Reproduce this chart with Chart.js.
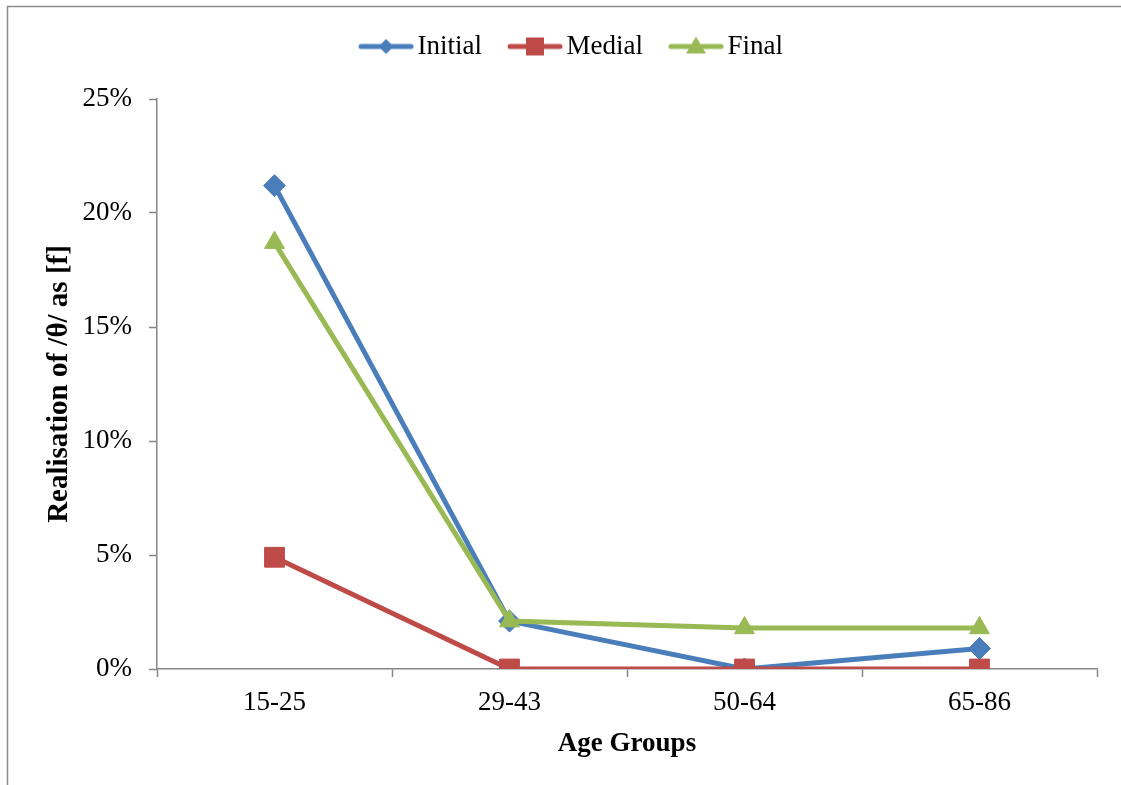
<!DOCTYPE html>
<html>
<head>
<meta charset="utf-8">
<script src="https://cdn.jsdelivr.net/npm/chart.js@4/dist/chart.umd.min.js"></script>
<style>
  html, body { margin: 0; padding: 0; background: #ffffff; }
  #wrap { position: relative; width: 1121px; height: 785px; }
</style>
</head>
<body>
<div id="wrap"><canvas id="chart" width="1121" height="785"></canvas></div>
<script>
// Age groups on the x axis
const categories = ['15-25', '29-43', '50-64', '65-86'];

// Share of /θ/ realised as [f], in percent, by word position
const initialValues = [21.2, 2.1, 0, 0.9];
const medialValues  = [4.9, 0, 0, 0];
const finalValues   = [18.7, 2.1, 1.8, 1.8];

// Y axis tick values (percent)
const yTicks = [0, 5, 10, 15, 20, 25];

const seriesNames = ['Initial', 'Medial', 'Final'];
const colors = { Initial: '#4A7EBB', Medial: '#BE4B48', Final: '#98B954' };
const axisGray = '#868686';
const serif = '"Liberation Serif", "Times New Roman", serif';

// Small swatch (line with its marker) used as the legend symbol
function legendSwatch(color, marker) {
  const c = document.createElement('canvas');
  c.width = 58; c.height = 24;
  const g = c.getContext('2d');
  const cy = 12, cx = 29;
  g.strokeStyle = color;
  g.lineWidth = 5;
  g.lineCap = 'round';
  g.beginPath(); g.moveTo(4, cy); g.lineTo(54, cy); g.stroke();
  g.fillStyle = color;
  g.beginPath();
  if (marker === 'diamond') {
    g.moveTo(cx, cy - 7.5); g.lineTo(cx + 7.5, cy); g.lineTo(cx, cy + 7.5); g.lineTo(cx - 7.5, cy);
  } else if (marker === 'square') {
    g.rect(cx - 9, cy - 9, 18, 18);
  } else {
    g.moveTo(cx, cy - 10); g.lineTo(cx + 10, cy + 7); g.lineTo(cx - 10, cy + 7);
  }
  g.closePath(); g.fill();
  return c;
}

const swatches = {
  Initial: legendSwatch(colors.Initial, 'diamond'),
  Medial: legendSwatch(colors.Medial, 'square'),
  Final: legendSwatch(colors.Final, 'triangle')
};

// Outer frame of the chart box
const framePlugin = {
  id: 'frame',
  afterDraw(chart) {
    const ctx = chart.ctx;
    ctx.save();
    ctx.strokeStyle = '#8c8c8c';
    ctx.lineWidth = 1.5;
    ctx.beginPath();
    ctx.moveTo(7.5, 785);
    ctx.lineTo(7.5, 6.5);
    ctx.lineTo(1121, 6.5);
    ctx.stroke();
    ctx.restore();
  }
};

// Place the legend row higher up and slightly right of centre
const legendShift = {
  id: 'legendShift',
  afterLayout(chart) {
    const lg = chart.legend;
    if (lg) {
      lg.left += 27; lg.right += 27;
      lg.top -= 29; lg.bottom -= 29;
    }
  }
};

function series(label, data, pointStyle, radius, order) {
  return {
    label,
    data,
    borderColor: colors[label],
    backgroundColor: colors[label],
    borderWidth: 5,
    tension: 0,
    pointStyle,
    pointRadius: radius,
    pointHoverRadius: radius,
    pointBorderWidth: 1,
    pointBackgroundColor: colors[label],
    pointBorderColor: colors[label],
    order
  };
}

new Chart(document.getElementById('chart'), {
  type: 'line',
  data: {
    labels: categories,
    datasets: [
      series('Initial', initialValues, 'rectRot', 11, 3),
      series('Medial', medialValues, 'rect', 14, 2),
      series('Final', finalValues, 'triangle', 11.5, 1)
    ]
  },
  options: {
    responsive: false,
    animation: false,
    devicePixelRatio: 1,
    layout: { padding: { top: 0, right: 24, bottom: 0, left: 0 } },
    plugins: {
      tooltip: { enabled: false },
      legend: {
        position: 'top',
        labels: {
          font: { family: serif, size: 27 },
          color: '#000000',
          usePointStyle: true,
          pointStyleWidth: 36,
          padding: 35,
          generateLabels() {
            return seriesNames.map((name, i) => ({
              text: name,
              pointStyle: swatches[name],
              fillStyle: colors[name],
              strokeStyle: colors[name],
              lineWidth: 0,
              hidden: false,
              datasetIndex: i,
              fontColor: '#000000'
            }));
          }
        }
      }
    },
    scales: {
      x: {
        type: 'category',
        offset: true,
        afterFit(scale) { scale.height = 116; },
        grid: {
          offset: true,
          drawOnChartArea: false,
          drawTicks: true,
          tickLength: 8,
          tickColor: axisGray,
          tickWidth: 1.5
        },
        border: { display: true, color: axisGray, width: 1.5 },
        ticks: {
          font: { family: serif, size: 27 },
          color: '#000000',
          padding: 10,
          maxRotation: 0
        },
        title: {
          display: true,
          text: 'Age Groups',
          font: { family: serif, size: 27, weight: 'bold' },
          color: '#000000',
          padding: { top: 0, bottom: 25 }
        }
      },
      y: {
        min: 0,
        max: 25,
        afterFit(scale) { scale.width = 157; scale.paddingTop = 99; },
        afterBuildTicks(scale) { scale.ticks = yTicks.map(v => ({ value: v })); },
        grid: {
          drawOnChartArea: false,
          drawTicks: true,
          tickLength: 8,
          tickColor: axisGray,
          tickWidth: 1.5
        },
        border: { display: true, color: axisGray, width: 1.5 },
        ticks: {
          font: { family: serif, size: 27 },
          color: '#000000',
          padding: 17,
          callback: v => v + '%'
        },
        title: {
          display: true,
          text: 'Realisation of /θ/ as [f]',
          font: { family: serif, size: 29, weight: 'bold' },
          color: '#000000',
          padding: { top: 42, bottom: 0 }
        }
      }
    }
  },
  plugins: [framePlugin, legendShift]
});
</script>
</body>
</html>
